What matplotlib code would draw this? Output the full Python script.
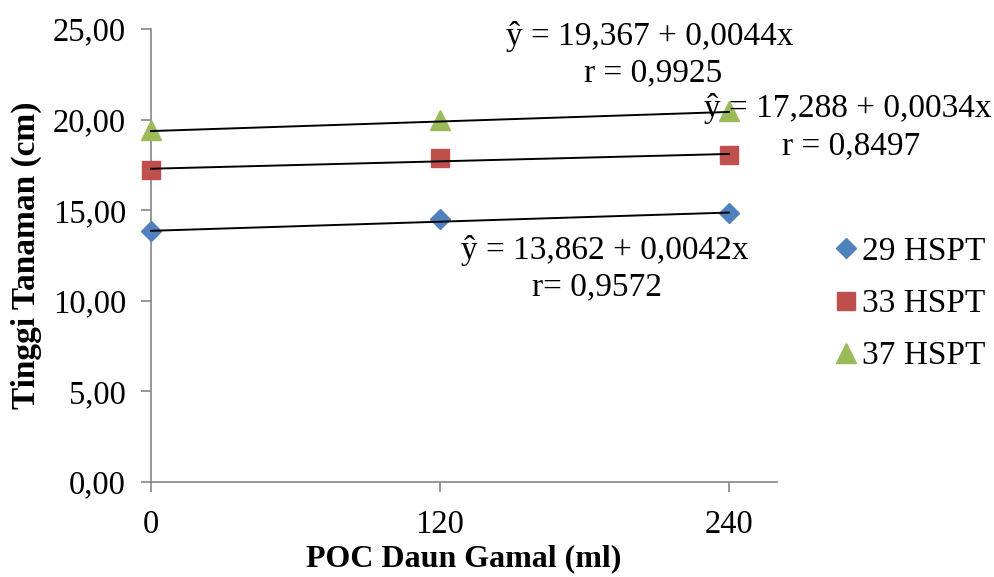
import numpy as np
import matplotlib.pyplot as plt

# Data
# -----------------
dosis = [0, 120, 240]
hspt29 = [13.84, 14.52, 14.82]
hspt33 = [17.22, 17.90, 18.05]
hspt37 = [19.40, 20.00, 20.45]

# regression (intercept, slope) from the chart labels
reg29 = (13.862, 0.0042)
reg33 = (17.288, 0.0034)
reg37 = (19.367, 0.0044)

labels = ["29 HSPT", "33 HSPT", "37 HSPT"]
colors = ["#4F81BD", "#C0504D", "#9BBB59"]
markers = ["D", "s", "^"]
sizes = [10, 13, 14]

plt.rcParams['font.family'] = ['Liberation Serif', 'DejaVu Serif']

W, H = 994, 577
fig = plt.figure(figsize=(W / 100, H / 100), dpi=100)
ax = fig.add_axes([151 / W, 1 - 482 / H, (777 - 151) / W, (482 - 29) / H])

series = [hspt29, hspt33, hspt37]
regs = [reg29, reg33, reg37]
xs = np.array(dosis, dtype=float)
for ys, (a, b), lab, c, m, s in zip(series, regs, labels, colors, markers, sizes):
    ax.plot(dosis, ys, linestyle='none', marker=m, color=c, markersize=s,
            label=lab, clip_on=False, zorder=3)
    ax.plot(xs, a + b * xs, color='black', lw=1.4, zorder=4, clip_on=False)

ax.set_xlim(0, 260)
ax.set_ylim(0, 25)
ax.set_xticks(dosis)
ax.set_xticklabels([str(d) for d in dosis])
yt = np.arange(0, 26, 5)
ax.set_yticks(yt)
ax.set_yticklabels([f"{v:.2f}".replace('.', ',') for v in yt])

for side in ['top', 'right']:
    ax.spines[side].set_visible(False)
for side in ['left', 'bottom']:
    ax.spines[side].set_color('#868686')
    ax.spines[side].set_linewidth(1.2)
ax.tick_params(axis='both', colors='#868686', labelcolor='black', labelsize=23.5,
               length=7, width=1.2)
ax.tick_params(axis='x', pad=13)
ax.tick_params(axis='y', pad=11)

ax.set_xlabel("POC Daun Gamal (ml)", fontsize=23, fontweight='bold', labelpad=3)
ax.set_ylabel("Tinggi Tanaman (cm)", fontsize=24, fontweight='bold', labelpad=8)

# equation labels
def ftext(x, y, s):
    fig.text(x / W, 1 - y / H, s, fontsize=24, ha='center', va='center')

ftext(650, 36, "ŷ = 19,367 + 0,0044x")
ftext(653, 73, "r = 0,9925")
ftext(848, 109, "ŷ = 17,288 + 0,0034x")
ftext(851, 146, "r = 0,8497")
ftext(605, 250, "ŷ = 13,862 + 0,0042x")
ftext(597, 287, "r= 0,9572")

ax.legend(loc='center left', bbox_to_anchor=(829 / W, 1 - 304 / H),
          bbox_transform=fig.transFigure, frameon=False, fontsize=24,
          handletextpad=0.0, handlelength=1.0, labelspacing=0.65,
          borderaxespad=0, borderpad=0, markerscale=1.0)

fig.savefig("out.png", dpi=100)
